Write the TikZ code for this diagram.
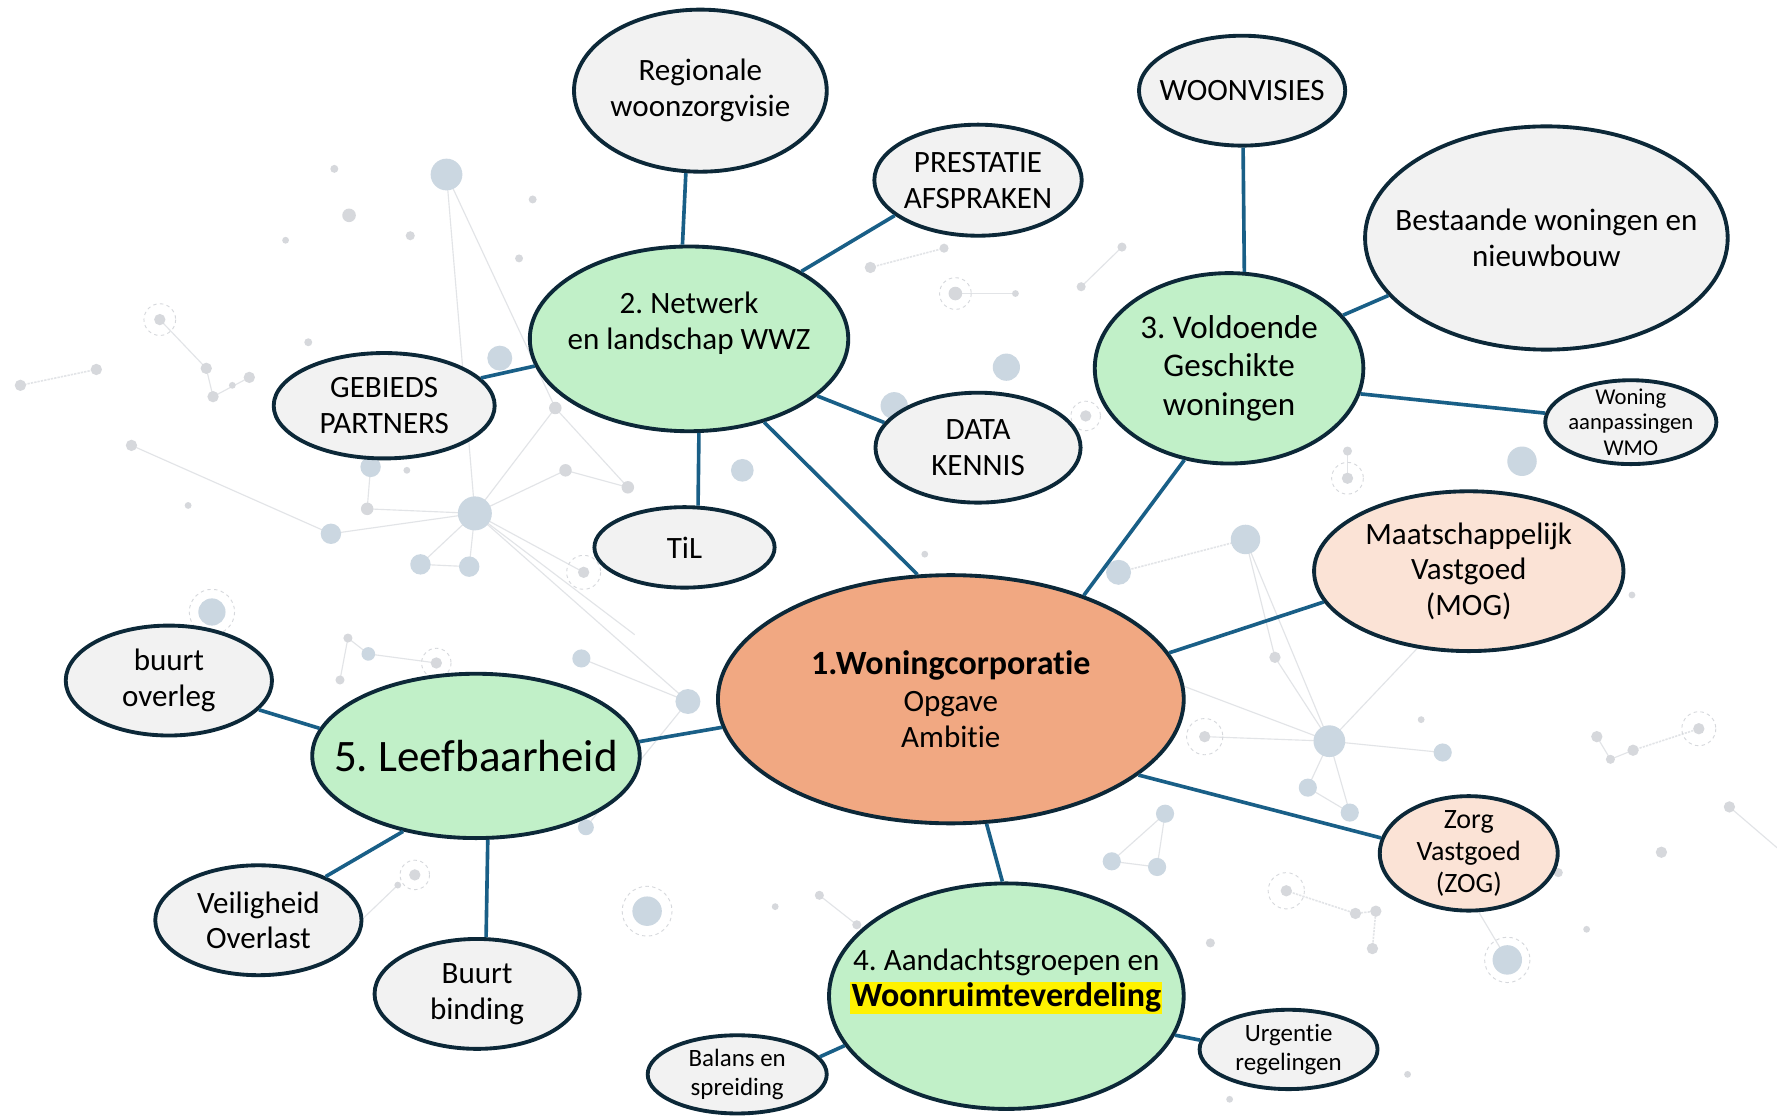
\documentclass[tikz,border=0pt]{standalone}
\usepackage{fontspec}
\setmainfont{Carlito}[Ligatures={NoCommon}]
\usetikzlibrary{shapes.geometric}
\definecolor{bordc}{RGB}{12,40,56}
\definecolor{linkc}{RGB}{25,95,135}
\definecolor{greyf}{RGB}{242,242,242}
\definecolor{greenf}{RGB}{193,240,200}
\definecolor{orangef}{RGB}{241,168,130}
\definecolor{peachf}{RGB}{251,227,214}
\definecolor{dotb}{RGB}{203,215,225}
\definecolor{dotg}{RGB}{214,216,220}
\definecolor{bgline}{RGB}{226,228,231}
\newcommand{\fs}[2]{\fontsize{#1}{#2}\selectfont}
\setlength{\fboxsep}{1pt}
\frenchspacing
\begin{document}
\begin{tikzpicture}[x=1pt,y=-1pt,
  bub/.style={ellipse, draw=bordc, line width=3.4pt, inner sep=-120pt, align=center, text=black, font=\frenchspacing\fs{27.4}{31.5}},
  gbub/.style={bub, fill=greyf},
  nbub/.style={bub, fill=greenf},
  obub/.style={bub, fill=orangef},
  pbub/.style={bub, fill=peachf},
  link/.style={draw=linkc, line width=3.2pt},
  bdot/.style={fill=dotb},
  gdot/.style={fill=dotg},
  ring/.style={draw=dotg, line width=0.8pt, dashed},
  bgl/.style={draw=bgline, line width=1pt},
  bgd/.style={draw=bgline, line width=1.4pt, dash pattern=on 2pt off 1pt}]
\fill[white] (0,0) rectangle (1568,985);
\useasboundingbox (0,0) rectangle (1568,985);

% ---------- faint background network ----------
\draw[bgl] (394,154) -- (419,453);
\draw[bgl] (394,154) -- (490,360) -- (554,430);
\draw[bgl] (419,453) -- (324,449) -- (327,412);
\draw[bgl] (419,453) -- (499,415) -- (554,430);
\draw[bgl] (419,453) -- (490,360);
\draw[bgl] (419,453) -- (515,505);
\draw[bgl] (419,453) -- (371,498) -- (414,500) -- (419,453);
\draw[bgl] (419,453) -- (292,471) -- (116,393);
\draw[bgl] (419,453) -- (560,560);
\draw[bgl] (419,453) -- (607,619);
\draw[bgl] (513,581) -- (607,619) -- (517,730);
\draw[bgd] (85,326) -- (18,340);
\draw[bgl] (141,282) -- (182,325) -- (188,350);
\draw[bgl] (188,350) -- (220,333);
\draw[bgd] (768,236) -- (833,219);
\draw[bgl] (843,259) -- (896,259);
\draw[bgl] (954,253) -- (990,218);
\draw[bgl] (1189,398) -- (1189,422);
\draw[bgl] (1173,654) -- (1099,476);
\draw[bgl] (1173,654) -- (1125,580);
\draw[bgl] (1173,654) -- (1063,650);
\draw[bgl] (1173,654) -- (1154,695) -- (1191,717) -- (1173,654);
\draw[bgl] (1173,654) -- (1262,560);
\draw[bgl] (1173,654) -- (1273,664);
\draw[bgl] (1173,654) -- (1030,600);
\draw[bgd] (1099,476) -- (987,505);
\draw[bgl] (1099,476) -- (1125,580);
\draw[bgl] (1028,718) -- (981,760) -- (1021,765) -- (1028,718);
\draw[bgd] (1135,786) -- (1196,806) -- (1214,804) -- (1211,837);
\draw[bgd] (1441,662) -- (1499,643);
\draw[bgl] (1409,650) -- (1421,670) -- (1441,662);
\draw[bgl] (1526,712) -- (1568,748);
\draw[bgl] (1296,790) -- (1330,847);
\draw[bgl] (723,790) -- (756,816);
\draw[bgl] (351,781) -- (300,830);
\draw[bgl] (325,577) -- (307,563);
\draw[bgl] (325,577) -- (385,585);
\draw[bgl] (300,600) -- (307,563);
\foreach \p/\r in {(394,154)/14,(441,316)/11,(419,453)/15,(292,471)/9,(371,498)/9,(414,500)/9,
  (327,412)/9,(187,540)/12,(655,415)/10,(789,358)/12,(888,324)/12,(1099,476)/13,(987,505)/11,
  (1343,407)/13,(1173,654)/14,(1273,664)/8,(1154,695)/8,(1191,717)/8,(1028,718)/8,(981,760)/8,
  (1021,765)/8,(1330,847)/13,(571,804)/13,(607,619)/11,(513,581)/8,(517,730)/7,(325,577)/6}
  \fill[bdot] \p circle (\r);
\foreach \p/\r in {(295,149)/3.5,(308,190)/6,(362,208)/4,(470,176)/3.5,(458,228)/3.5,(272,302)/3.5,
  (490,360)/5.5,(359,415)/3,(324,449)/5.5,(499,415)/5.5,(554,430)/5.5,(515,505)/5,(141,282)/5,
  (85,326)/5,(18,340)/5,(182,325)/5,(188,350)/5,(220,333)/5,(205,340)/3,(116,393)/5,(252,212)/3,
  (843,259)/6,(896,259)/3,(768,236)/5,(833,219)/4,(954,253)/4,(990,218)/4,(958,367)/5,
  (1189,422)/5,(1189,398)/4,(1063,650)/5,(1125,580)/5,(1254,635)/3,(1135,786)/5,(1196,806)/5,
  (1214,804)/5,(1211,837)/5,(1499,643)/5,(1441,662)/5,(1409,650)/5,(1421,670)/4,(1526,712)/5,
  (1466,752)/5,(1243,783)/3,(1242,948)/3,(1085,970)/3,(366,772)/5,(351,781)/3,(307,563)/4,
  (300,600)/4,(385,585)/5,(756,816)/4,(723,790)/4,(684,800)/3,(1068,832)/4,(1375,770)/4,
  (1400,820)/3,(1440,525)/3,(1262,455)/3,(816,489)/3,(166,446)/3}
  \fill[gdot] \p circle (\r);
\foreach \p/\r in {(141,282)/14,(187,540)/20,(843,259)/14,(1189,422)/14,(1063,650)/16,
  (1135,786)/16,(1330,847)/20,(1499,643)/15,(571,804)/22,(515,505)/15,(366,772)/13,(385,585)/13,(958,367)/13}
  \draw[ring] \p circle (\r);

% ---------- nodes ----------
\node[gbub, minimum width=223, minimum height=143] (reg) at (618,80) {Regionale\\woonzorgvisie};
\node[gbub, minimum width=183, minimum height=98] (pre) at (863,159) {PRESTATIE\\AFSPRAKEN};
\node[nbub, minimum width=281, minimum height=163] (net) at (608,299) {2. Netwerk\\en landschap WWZ\\\mbox{}};
\node[gbub, minimum width=195, minimum height=93] (geb) at (339,358) {GEBIEDS\\PARTNERS};
\node[gbub, minimum width=181, minimum height=97] (dat) at (863,395) {DATA\\KENNIS};
\node[gbub, minimum width=159, minimum height=71] (til) at (604,483) {TiL};
\node[gbub, minimum width=182, minimum height=97] (woo) at (1096,80) {WOONVISIES};
\node[gbub, minimum width=320, minimum height=197] (bes) at (1364.5,210) {Bestaande woningen en\\nieuwbouw};
\node[nbub, minimum width=237, minimum height=168, font=\frenchspacing\fs{29.2}{34}] (vol) at (1084.5,325) {3. Voldoende\\Geschikte\\woningen};
\node[gbub, minimum width=151, minimum height=74, font=\fs{20}{22.5}] (wmo) at (1439,372.5) {Woning\\aanpassingen\\WMO};
\node[pbub, minimum width=273, minimum height=141] (mog) at (1296,504) {Maatschappelijk\\Vastgoed\\(MOG)};
\node[obub, minimum width=411, minimum height=219, font=\fs{27.4}{32}] (corp) at (839,617) {{\bfseries\fs{30}{32}1.Woningcorporatie}\\Opgave\\Ambitie};
\node[gbub, minimum width=182, minimum height=97] (buu) at (149,600.5) {buurt\\overleg};
\node[nbub, minimum width=289, minimum height=145, font=\frenchspacing\fs{39.7}{45}] (lee) at (420,667) {5. Leefbaarheid};
\node[gbub, minimum width=182, minimum height=97] (vei) at (228,812) {Veiligheid\\Overlast};
\node[gbub, minimum width=181, minimum height=97] (bin) at (421,877) {Buurt\\binding};
\node[pbub, minimum width=157, minimum height=101, font=\fs{24.7}{28}] (zog) at (1296,753) {Zorg\\Vastgoed\\(ZOG)};
\node[nbub, minimum width=313, minimum height=199, font=\frenchspacing\fs{27.4}{32}] (grp) at (888,879) {4. Aandachtsgroepen en\\{\bfseries\fs{30}{32}\colorbox{yellow}{Woonruimteverdeling}}\\\mbox{}};
\node[gbub, minimum width=158, minimum height=69, font=\fs{22}{25.6}] (bal) at (650.5,948) {Balans en\\spreiding};
\node[gbub, minimum width=157, minimum height=70, font=\fs{22}{25.6}] (urg) at (1137,926) {Urgentie\\regelingen};

% ---------- connectors ----------
\draw[link] (reg.-100.9) -- (net.94.1);
\draw[link] (net.31.4) -- (pre.-157);
\draw[link] (net.190.8) -- (geb.16.2);
\draw[link] (net.-24.1) -- (dat.165.2);
\draw[link] (net.-84.4) -- (til.72.6);
\draw[link] (net.-48.7) -- (corp.105.6);
\draw[link] (woo.-89.3) -- (vol.81.3);
\draw[link] (vol.25) -- (bes.200.4);
\draw[link] (vol.-11.6) -- (wmo.174.7);
\draw[link] (vol.-116.3) -- (corp.38.5);
\draw[link] (corp.12.3) -- (mog.192.8);
\draw[link] (corp.-22.3) -- (zog.170.5);
\draw[link] (corp.-74.7) -- (grp.92.3);
\draw[link] (corp.187.9) -- (lee.5.5);
\draw[link] (lee.170.9) -- (buu.-18.4);
\draw[link] (lee.-134.6) -- (vei.33.9);
\draw[link] (lee.-82.4) -- (bin.81.9);
\draw[link] (grp.197.4) -- (bal.12.9);
\draw[link] (grp.-13) -- (urg.174.3);
\end{tikzpicture}
\end{document}
